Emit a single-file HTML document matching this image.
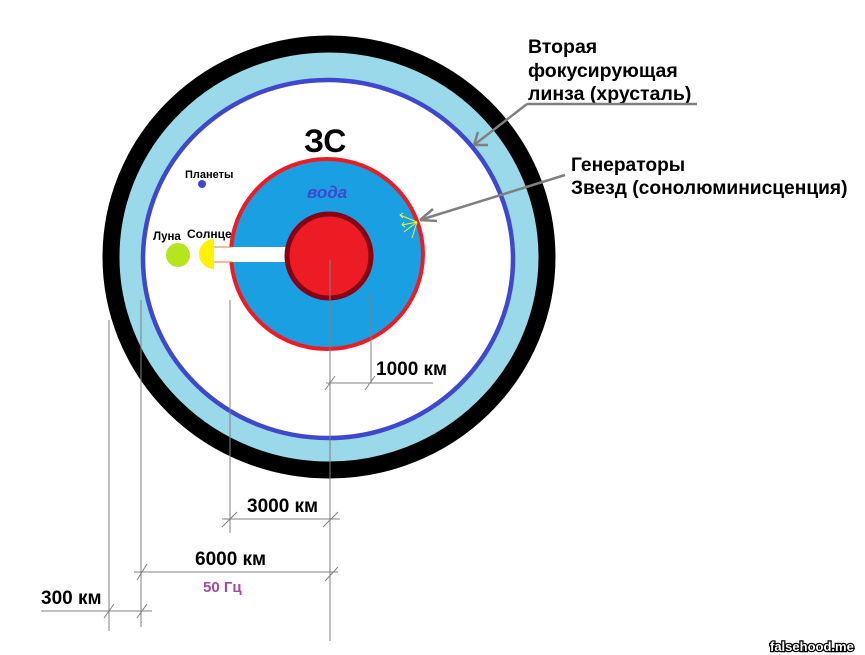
<!DOCTYPE html>
<html><head><meta charset="utf-8"><style>
html,body{margin:0;padding:0;background:#fff;width:865px;height:655px;overflow:hidden}
text{font-family:"Liberation Sans",sans-serif;font-weight:bold}
</style></head><body>
<svg width="865" height="655" viewBox="0 0 865 655" xmlns="http://www.w3.org/2000/svg">
<!-- rings -->
<ellipse cx="329" cy="257" rx="218" ry="213" fill="#99d9ea" stroke="#000" stroke-width="17"/>
<ellipse cx="328" cy="259" rx="185" ry="179" fill="#fff" stroke="#3f48cc" stroke-width="4.5"/>
<!-- water -->
<ellipse cx="327" cy="254" rx="96" ry="95" fill="#1a9fe2" stroke="#ed1c24" stroke-width="4"/>
<!-- beam -->
<rect x="213" y="247" width="76" height="15" fill="#fff"/>
<line x1="213" y1="247" x2="232" y2="247" stroke="#e87a3a" stroke-width="1"/>
<line x1="213" y1="262" x2="232" y2="262" stroke="#e87a3a" stroke-width="1"/>
<!-- core -->
<circle cx="329" cy="256" r="42" fill="#ed1c24" stroke="#880015" stroke-width="5"/>
<!-- sun, moon, planet -->
<path d="M214,239 A15,15 0 0 0 214,269 Z" fill="#fff200"/>
<circle cx="178" cy="255" r="12" fill="#b5e61d"/>
<circle cx="202" cy="184" r="4" fill="#3f48cc"/>
<!-- star generator -->
<g stroke="#e5f53a" stroke-width="1" fill="none">
<path d="M417,222 L400,215 M417,222 L402,225 M417,222 L404,232 M417,222 L412,238 M403,213 L400,215 L403,218 M404,222 L402,225 L405,227"/>
</g>
<!-- texts -->
<text x="304" y="152" font-size="32" fill="#000">ЗС</text>
<text x="307" y="198" font-size="17" font-style="italic" fill="#3f48cc" font-weight="bold">вода</text>
<text x="185" y="178" font-size="11" fill="#000">Планеты</text>
<text x="153" y="240" font-size="11.5" fill="#000">Луна</text>
<text x="187" y="238" font-size="12" fill="#000">Солнце</text>
<text x="528" y="53" font-size="19.5" fill="#000">Вторая</text>
<text x="528" y="77" font-size="19.5" fill="#000">фокусирующая</text>
<text x="528" y="100" font-size="19.5" fill="#000">линза (хрусталь)</text>
<text x="571" y="171" font-size="19.2" fill="#000">Генераторы</text>
<text x="571" y="194" font-size="19.2" fill="#000">Звезд (сонолюминисценция)</text>
<!-- arrows -->
<g stroke="#808080" stroke-width="2.5" fill="none">
<line x1="697" y1="104" x2="527" y2="104"/>
<path d="M527,104 L474,145"/>
<path d="M474,145 L478,132 M474,145 L488,145"/>
<line x1="565" y1="175" x2="420" y2="220"/>
<path d="M420,220 L433,209 M420,220 L437,221"/>
</g>
<!-- dimension lines -->
<g stroke="#808080" stroke-width="1" fill="none">
<line x1="109" y1="320" x2="109" y2="631"/>
<line x1="141" y1="300" x2="141" y2="627"/>
<line x1="230" y1="300" x2="230" y2="533"/>
<line x1="330" y1="260" x2="330" y2="641"/>
<line x1="371" y1="293" x2="371" y2="383"/>
<line x1="326" y1="383" x2="433" y2="383"/>
<line x1="222" y1="519" x2="340" y2="519"/>
<line x1="134" y1="572" x2="338" y2="572"/>
<line x1="41" y1="611" x2="152" y2="611"/>
<path d="M325,390 L335,376 M365,390 L375,376 M222,527 L237,512 M323,527 L338,512 M137,580 L147,564 M325,581 L338,567 M104,618 L114,604 M137,618 L147,604"/>
</g>
<text x="376" y="375" font-size="19" fill="#000">1000 км</text>
<text x="247" y="512" font-size="19" fill="#000">3000 км</text>
<text x="195" y="565" font-size="19" fill="#000">6000 км</text>
<text x="203" y="592" font-size="15" fill="#a349a4">50 Гц</text>
<text x="41" y="604" font-size="19" fill="#000">300 км</text>
<text x="770" y="651" font-size="13" fill="#fff" stroke="#000" stroke-width="2.5" paint-order="stroke">falsehood.me</text>
</svg>
</body></html>
